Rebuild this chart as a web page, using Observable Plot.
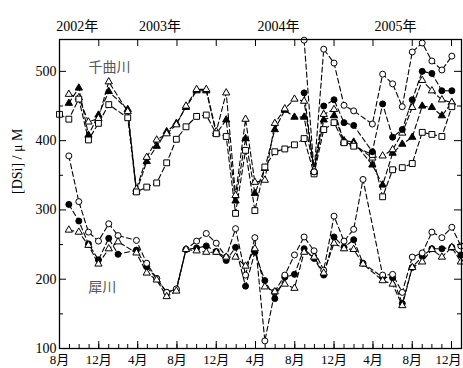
<!DOCTYPE html>
<html><head><meta charset="utf-8">
<script src="https://cdn.jsdelivr.net/npm/d3@7"></script>
<script src="https://cdn.jsdelivr.net/npm/@observablehq/plot@0.6"></script>
<style>
html,body{margin:0;padding:0;background:#fff;}
</style></head><body><div id="chart"></div>
<script>
// sampling dates (union of both rivers)
const dates = ["2002-08-01","2002-08-30","2002-09-30","2002-10-30","2002-11-30","2003-01-01","2003-01-30","2003-03-01","2003-03-28","2003-04-29",
"2003-05-30","2003-06-30","2003-07-30","2003-08-29","2003-10-01","2003-10-31","2003-12-01","2004-01-01","2004-01-30","2004-03-01",
"2004-03-30","2004-04-30","2004-05-31","2004-07-01","2004-07-31","2004-08-30","2004-09-30","2004-10-30","2004-12-01","2005-01-01",
"2005-01-31","2005-03-01","2005-03-30","2005-05-01","2005-06-01","2005-07-01","2005-08-01","2005-09-01","2005-10-01","2005-11-01",
"2005-12-02","2005-12-30"];
const _ = null;
// 千曲川
const chikumaFilledTri = [_,454,476,408,437,471,_,445,326,370, 392,413,425,448,472,472,410,430,313,403, 324,360,416,444,434,434,355,430,436,400, 398,_,365,336,382,395,405,450,448,436, 455,_];
const chikumaOpenTri   = [_,467,462,427,432,485,_,442,330,376, 401,410,423,450,474,474,413,469,321,431, 340,343,425,446,460,457,358,438,445,397, 395,_,375,378,387,411,448,487,472,459, 455,_];
const chikumaSquare    = [438,431,460,401,425,452,_,433,326,333, 339,368,402,420,435,437,410,406,295,386, 299,362,384,388,394,403,352,416,426,397, 392,_,380,319,358,361,367,412,409,406, 449,_];
const chikumaFilledCir = [_,_,_,_,_,_,_,_,_,_, _,_,_,_,_,_,_,_,_,_, _,_,_,_,_,469,355,450,459,426, 422,_,384,453,405,416,459,500,497,472, 472,_];
const chikumaOpenCir   = [_,_,_,_,_,_,_,_,_,_, _,_,_,_,_,_,_,_,_,_, _,_,_,_,_,545,355,532,512,451, 443,_,424,496,482,449,528,541,515,502, 522,_];
// 犀川
const saiFilledCir = [_,308,284,251,228,259,236,_,242,218, 201,181,185,243,245,248,240,227,246,190, 239,198,172,203,207,244,230,206,261,246, 257,223,_,203,202,165,217,233,244,244, 246,235];
const saiOpenCir   = [_,378,312,268,255,280,263,_,256,223, 201,181,186,243,255,266,252,232,273,206, 260,111,182,206,235,261,241,213,291,255, 272,344,_,206,207,181,232,238,268,260, 275,248];
const saiOpenTri   = [_,271,268,249,222,244,254,_,238,209, 199,175,183,243,241,239,239,232,232,219, 244,189,182,193,187,239,232,209,252,244, 243,222,_,198,193,162,217,225,243,232, 246,225];

const xMajorTicks = ["2002-08-01","2002-12-01","2003-04-01","2003-08-01","2003-12-01","2004-04-01","2004-08-01","2004-12-01","2005-04-01","2005-08-01","2005-12-01"];
const xTickLabels = ["8月","12月","4月","8月","12月","4月","8月","12月","4月","8月","12月"];
const yMajorTicks = [100,200,300,400,500];
const yMinorTicks = [150,250,350,450];
const yearLabels = ["2002年","2003年","2004年","2005年"];
const yearLabelDates = ["2002-07-22","2003-04-05","2004-04-07","2005-04-06"];
const riverNames = ["千曲川","犀川"];
const riverLabelDates = ["2003-01-03","2002-12-12"];
const riverLabelValues = [505,188];
const yTitle = "[DSi] / μ M";

const series = [
  {id:"c-tri-f", values: chikumaFilledTri, symbol:"triangle", fill:"black"},
  {id:"c-tri-o", values: chikumaOpenTri, symbol:"triangle", fill:"white"},
  {id:"c-sq", values: chikumaSquare, symbol:"square", fill:"white"},
  {id:"c-cir-f", values: chikumaFilledCir, symbol:"circle", fill:"black"},
  {id:"c-cir-o", values: chikumaOpenCir, symbol:"circle", fill:"white"},
  {id:"s-cir-f", values: saiFilledCir, symbol:"circle", fill:"black"},
  {id:"s-cir-o", values: saiOpenCir, symbol:"circle", fill:"white"},
  {id:"s-tri-o", values: saiOpenTri, symbol:"triangle", fill:"white"}
];
const rSize = {circle: 3, triangle: 2.7, square: 3.3};
const rowsOf = s => dates.map((d,i)=>({date:new Date(d), value:s.values[i], id:s.id})).filter(r=>r.value!=null);
const allRows = series.flatMap(rowsOf);

const W = 463, H = 368, mL = 59, mR = 2, mT = 39, mB = 20;
const plotW = W - mL - mR, plotH = H - mT - mB;
const monthTicks = d3.utcMonth.range(new Date("2002-08-01"), new Date("2006-01-02"));
const font = "'Liberation Serif','Noto Sans CJK JP',serif";

const xLabelRows = xMajorTicks.map((d,i)=>({date:new Date(d), label:xTickLabels[i], last: i===xMajorTicks.length-1}));

const marks = [
  Plot.line(allRows, {x:"date", y:"value", z:"id", stroke:"black", strokeWidth:1.1, strokeDasharray:"5,3"}),
  ...series.map(s => Plot.dot(rowsOf(s), {x:"date", y:"value", symbol:s.symbol, r:rSize[s.symbol], fill:s.fill, stroke:"black", strokeWidth:1})),
  // ticks (inward)
  Plot.tickX(monthTicks, {x:d=>d, insetTop: plotH-4, stroke:"black"}),
  Plot.tickX(xMajorTicks, {x:d=>new Date(d), insetTop: plotH-7, stroke:"black"}),
  Plot.tickX(xMajorTicks, {x:d=>new Date(d), insetBottom: plotH-7, stroke:"black"}),
  Plot.tickY(yMajorTicks, {y:d=>d, insetRight: plotW-7, stroke:"black"}),
  Plot.tickY(yMinorTicks, {y:d=>d, insetRight: plotW-4, stroke:"black"}),
  Plot.tickY(yMajorTicks, {y:d=>d, insetLeft: plotW-7, stroke:"black"}),
  Plot.tickY(yMinorTicks, {y:d=>d, insetLeft: plotW-4, stroke:"black"}),
  Plot.frame({stroke:"black", strokeWidth:1.3}),
  // labels
  Plot.text(xLabelRows.filter(r=>!r.last), {x:"date", text:"label", frameAnchor:"bottom", lineAnchor:"top", dy:6, fontSize:13}),
  Plot.text(xLabelRows.filter(r=>r.last), {x:"date", text:"label", frameAnchor:"bottom", lineAnchor:"top", textAnchor:"end", dx:10, dy:6, fontSize:13}),
  Plot.text(yMajorTicks, {y:d=>d, text:d=>String(d), frameAnchor:"left", textAnchor:"end", dx:-3, fontSize:14}),
  Plot.text(yearLabels, {x:(d,i)=>new Date(yearLabelDates[i]), text:d=>d, frameAnchor:"top", textAnchor:"start", lineAnchor:"bottom", dy:-9, fontSize:14}),
  Plot.text(riverNames, {x:(d,i)=>new Date(riverLabelDates[i]), y:(d,i)=>riverLabelValues[i], text:d=>d, fill:"#555", fontSize:14}),
  Plot.text([yTitle], {frameAnchor:"left", rotate:-90, dx:-42, text:d=>d, fontSize:14})
];

const chart = Plot.plot({
  width: W, height: H, marginLeft: mL, marginRight: mR, marginTop: mT, marginBottom: mB,
  x: {type:"utc", domain:[new Date("2002-08-01"), new Date("2006-01-01")], axis:null},
  y: {domain:[100,546], axis:null},
  style: {fontFamily: font, fontSize:"14px", background:"white", color:"black"},
  marks
});
document.getElementById("chart").appendChild(chart);
</script>
</body></html>
